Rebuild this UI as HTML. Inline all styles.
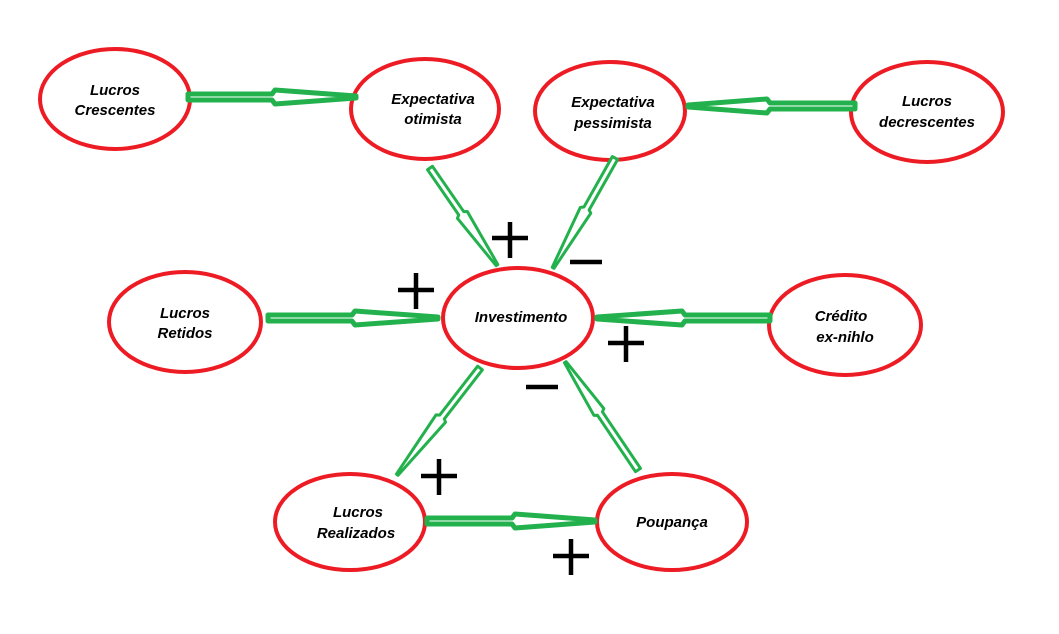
<!DOCTYPE html>
<html><head><meta charset="utf-8"><style>
html,body{margin:0;padding:0;background:#fff;}
svg{display:block;}
text{font-family:"Liberation Sans",sans-serif;font-style:italic;font-weight:bold;font-size:15px;fill:#000;text-anchor:middle;}
</style></head><body>
<svg width="1059" height="634" viewBox="0 0 1059 634" xmlns="http://www.w3.org/2000/svg">
<g fill="none" stroke="#ed1c24" stroke-width="4">
<ellipse cx="115" cy="99" rx="75" ry="50"/>
<ellipse cx="425" cy="109" rx="74" ry="50"/>
<ellipse cx="610" cy="111" rx="75" ry="49"/>
<ellipse cx="927" cy="112" rx="76" ry="50"/>
<ellipse cx="185" cy="322" rx="76" ry="50"/>
<ellipse cx="518" cy="318" rx="75" ry="50"/>
<ellipse cx="845" cy="325" rx="76" ry="50"/>
<ellipse cx="350" cy="522" rx="75" ry="48"/>
<ellipse cx="672" cy="522" rx="75" ry="48"/>
</g>
<g fill="#fff" stroke="#22b14c" stroke-width="5" stroke-linejoin="round">
<polygon points="188,94 272,94 275,90 356,96 356,98 275,104 272,100 188,100"/>
<polygon points="855,103 770,103 767,99 688,105 688,107 767,113 770,109 855,109"/>
<polygon points="268,315 352,315 355,311 438,317 438,319 355,325 352,321 268,321"/>
<polygon points="770,315 685,315 682,311 597,317 597,319 682,325 685,321 770,321"/>
<polygon points="427,518 512,518 515,514 595,520 595,522 515,528 512,524 427,524"/>
</g>
<g fill="#fff" stroke="#22b14c" stroke-width="3" stroke-linejoin="round">
<g transform="translate(430,168) rotate(55.4)"><polygon points="0,-3 55,-3 57,-6 118,-1 118,1 57,6 55,3 0,3"/></g>
<g transform="translate(615,158) rotate(119.4)"><polygon points="0,-3 58,-3 60,-6 126,-1 126,1 60,6 58,3 0,3"/></g>
<g transform="translate(480,368) rotate(127.8)"><polygon points="0,-3 62,-3 64,-6 135,-1 135,1 64,6 62,3 0,3"/></g>
<g transform="translate(638,470) rotate(-124)"><polygon points="0,-3 68,-3 70,-6 130,-1 130,1 70,6 68,3 0,3"/></g>
</g>
<g stroke="#000" stroke-width="4.5">
<path d="M492,238h36M510,222v36"/>
<path d="M570,262h32"/>
<path d="M398,290h36M416,273v36"/>
<path d="M608,343h36M626,326v36"/>
<path d="M526,387h32"/>
<path d="M421,476h36M439,459v36"/>
<path d="M553,556h36M571,539v36"/>
</g>
<text x="115" y="95">Lucros</text><text x="115" y="115">Crescentes</text>
<text x="433" y="104">Expectativa</text><text x="433" y="124">otimista</text>
<text x="613" y="107">Expectativa</text><text x="613" y="128">pessimista</text>
<text x="927" y="106">Lucros</text><text x="927" y="127">decrescentes</text>
<text x="185" y="318">Lucros</text><text x="185" y="338">Retidos</text>
<text x="521" y="322">Investimento</text>
<text x="841" y="321">Crédito</text><text x="845" y="342">ex-nihlo</text>
<text x="358" y="517">Lucros</text><text x="356" y="538">Realizados</text>
<text x="672" y="527">Poupança</text>
</svg>
</body></html>
